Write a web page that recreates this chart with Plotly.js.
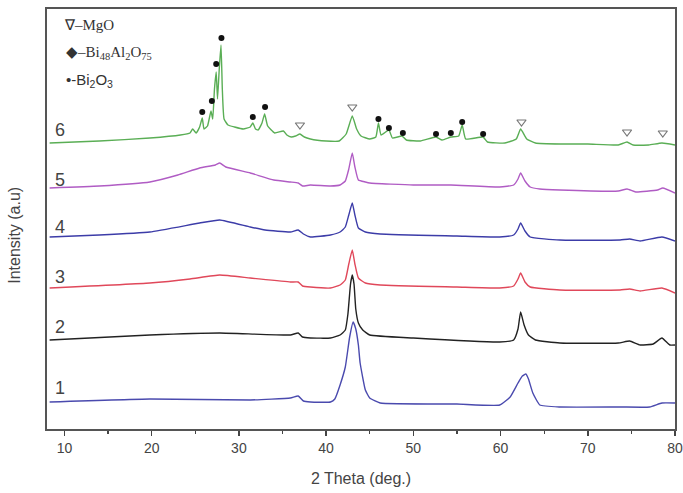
<!DOCTYPE html>
<html>
<head>
<meta charset="utf-8">
<script src="https://cdn.plot.ly/plotly-3.0.1.min.js"></script>
<style>html,body{margin:0;padding:0;background:#fff;}#chart{width:683px;height:493px;}</style>
</head>
<body>
<div id="chart"></div>
<script>
// 2 Theta (deg.) and stacked intensity (a.u.)
const theta1 = [8.3,19.8,31.3,35.9,36.8,37.4,38.2,40.5,41.0,41.6,42.2,42.7,43.1,43.4,43.7,43.9,44.5,45.0,46.2,55.0,59.9,61.1,62.0,62.5,62.9,63.2,63.7,64.5,66.8,73.7,77.1,78.5,80.0];
const int1   = [27,30,29,31,33,28,27,27,30,44,62,92,107,100,84,66,39,31,26,25,24,32,46,53,55,50,36,24,22,22,22,26,26];

const theta2 = [8.3,19.8,27.8,35.9,36.8,37.3,38.2,40.5,41.6,42.2,42.5,42.8,43.0,43.2,43.4,43.7,44.2,45.0,50.0,59.9,61.5,62.0,62.3,62.7,63.2,64.0,66.8,73.5,74.8,76.0,77.5,78.5,79.4,80.0];
const int2   = [89,94,96,94,96,92,91,91,94,99,115,145,154,145,120,106,99,94,91,87,89,100,117,104,94,89,86,86,88,84,85,91,84,84];

const theta3 = [8.3,19.8,24.4,27.8,31.3,35.9,36.8,37.3,38.2,40.5,41.6,42.2,42.6,43.0,43.3,43.7,44.5,46.2,55.0,59.9,61.5,62.0,62.3,62.8,63.4,66.8,73.7,74.8,76.0,78.5,80.0];
const int3   = [141,146,150,154,151,147,147,143,142,141,144,149,165,179,165,151,146,144,142,141,143,150,156,147,142,139,139,140,138,141,136];

const theta4 = [8.3,14.0,19.8,25.5,27.8,31.3,33.0,35.9,36.8,37.4,38.2,40.5,41.6,42.2,42.6,43.0,43.3,43.7,44.5,46.2,55.0,59.9,61.5,62.0,62.3,62.8,63.4,66.8,73.7,74.8,76.0,78.5,80.0];
const int4   = [192,194,197,206,209,202,199,197,199,195,192,194,197,202,214,226,214,201,197,195,193,192,194,200,206,198,192,189,189,190,188,192,188];

const theta5 = [8.3,14.0,19.8,23.0,25.5,27.3,27.8,28.5,31.3,34.0,35.9,36.8,37.3,38.2,40.5,41.6,42.2,42.6,43.0,43.3,43.7,44.5,45.0,50.0,54.3,59.9,61.5,62.0,62.3,62.8,63.4,64.5,66.8,73.5,74.5,75.5,78.0,78.6,80.0];
const int5   = [241,243,247,254,261,264,266,262,256,249,247,246,243,244,243,244,248,260,276,262,249,247,246,244,244,242,244,250,256,248,242,240,239,238,240,237,239,241,236];

const theta6 = [8.3,14.0,19.8,23.3,24.4,24.7,25.1,25.5,25.8,26.0,26.4,26.8,27.0,27.2,27.4,27.55,27.75,27.95,28.1,28.3,28.75,29.5,30.5,31.3,31.6,31.9,32.2,32.65,32.95,33.3,34.1,35.1,35.5,36.0,36.5,37.0,37.5,38.2,40.0,41.5,42.3,43.0,43.5,44.0,45.0,45.7,46.0,46.3,47.2,47.6,48.7,49.2,50.8,52.6,53.3,54.3,55.2,55.6,56.0,58.0,58.5,60.5,61.8,62.3,63.0,64.0,67.0,70.0,73.5,74.5,75.2,77.0,78.5,80.0];
const int6   = [286,288,291,294,296,300,296,302,311,300,303,318,310,340,357,330,360,384,340,310,304,302,300,302,306,300,299,306,315,303,296,298,294,292,293,295,292,290,288,288,295,313,300,293,290,292,306,294,299,291,293,289,288,292,289,292,293,304,290,292,287,286,290,300,290,286,285,285,284,287,284,284,286,284];

const sampleNames = ["1","2","3","4","5","6"];
const labelLevels = [41,102,152,202,249,299];

// phase markers on pattern 6
const bi2o3Theta = [25.8,26.9,27.4,28.0,31.6,33.0,46.0,47.2,48.8,52.6,54.3,55.6,58.0];
const bi2o3Level = [317,328,365,391,312,322,310,301,296,295,296,307,295];
const mgoTheta   = [37.0,43.0,62.4,74.5,78.6];
const mgoLevel   = [304,322,307,297,296];

const colors = ["#4a4aae","#222222","#e0485a","#3c3ca8","#b05cc4","#5aae55"];
const thetas = [theta1,theta2,theta3,theta4,theta5,theta6];
const ints = [int1,int2,int3,int4,int5,int6];

const traces = thetas.map((t,i)=>({
  x: t, y: ints[i], type: 'scatter', mode: 'lines',
  line: {color: colors[i], width: 1.4, shape: 'spline', smoothing: 0.4},
  hoverinfo: 'skip', showlegend: false
}));
traces.push({x: bi2o3Theta, y: bi2o3Level, type:'scatter', mode:'markers',
  marker:{symbol:'circle', size:6, color:'#111'}, showlegend:false});
traces.push({x: mgoTheta, y: mgoLevel, type:'scatter', mode:'markers',
  marker:{symbol:'triangle-down-open', size:8, color:'#777', line:{width:1.2}}, showlegend:false});

const annotations = sampleNames.map((n,i)=>({
  x: 9.5, y: labelLevels[i], xref:'x', yref:'y', text: n, showarrow:false,
  font:{family:'Liberation Sans, Arial, sans-serif', size:18, color:'#444'}
}));
annotations.push({xref:'paper', yref:'paper', x:-0.068, y:0.462, text:'Intensity (a.u)', textangle:-90,
  showarrow:false, font:{family:'Liberation Sans, Arial, sans-serif', size:16, color:'#444'}});
annotations.push({xref:'paper', yref:'y', x:0.024, y:404, xanchor:'left', text:'∇–MgO', showarrow:false,
  font:{family:'Liberation Serif, serif', size:15, color:'#333'}});
annotations.push({xref:'paper', yref:'y', x:0.027, y:376, xanchor:'left', text:'◆–Bi<sub>48</sub>Al<sub>2</sub>O<sub>75</sub>', showarrow:false,
  font:{family:'Liberation Serif, serif', size:15, color:'#333'}});
annotations.push({xref:'paper', yref:'y', x:0.027, y:349, xanchor:'left', text:'•-Bi<sub>2</sub>O<sub>3</sub>', showarrow:false,
  font:{family:'Liberation Sans, Arial, sans-serif', size:15, color:'#333'}});

const layout = {
  width: 683, height: 493,
  margin: {l:47, r:8, t:9, b:64},
  paper_bgcolor:'#fff', plot_bgcolor:'#fff',
  showlegend:false,
  xaxis: {
    range:[8,80], dtick:10, tick0:0, ticks:'outside', ticklen:5, tickwidth:1.5, tickcolor:'#444',
    minor:{dtick:5, ticks:'outside', ticklen:3, tickcolor:'#444', tickwidth:1.2},
    showline:true, mirror:true, linecolor:'#555', linewidth:2,
    showgrid:false, zeroline:false,
    tickfont:{family:'Liberation Sans, Arial, sans-serif', size:14, color:'#444'},
    title:{text:'2 Theta (deg.)', standoff:18, font:{family:'Liberation Sans, Arial, sans-serif', size:16, color:'#444'}}
  },
  yaxis: {
    range:[0,420], showticklabels:false, ticks:'', showgrid:false, zeroline:false,
    showline:true, mirror:true, linecolor:'#555', linewidth:2
  },
  annotations: annotations
};
Plotly.newPlot('chart', traces, layout, {displayModeBar:false, staticPlot:true});
</script>
</body>
</html>
